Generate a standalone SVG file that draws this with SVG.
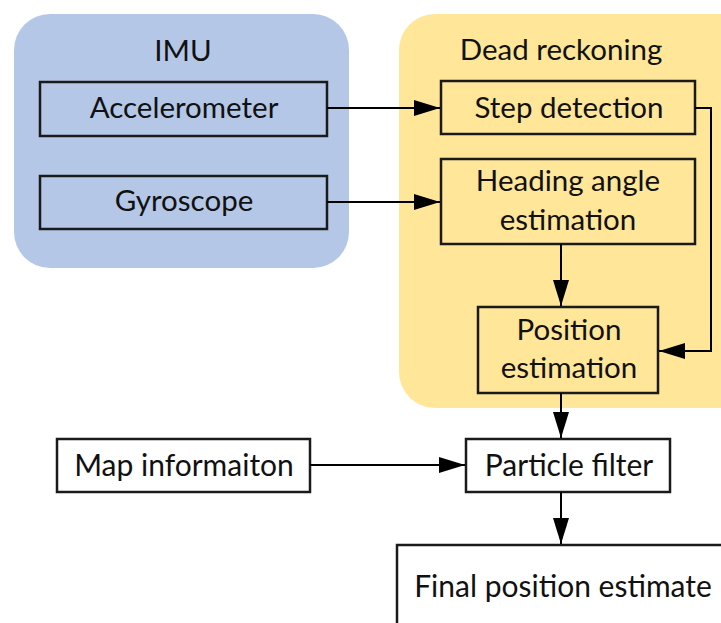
<svg xmlns="http://www.w3.org/2000/svg" width="721" height="623" viewBox="0 0 721 623">
<defs>
<marker id="ah" markerWidth="26" markerHeight="16" refX="26" refY="8" orient="auto" markerUnits="userSpaceOnUse">
<path d="M0,0 L26,8 L0,16 Z" fill="#000"/>
</marker>
</defs>
<style>
.grp{stroke:none}
.box{stroke:#1a1a1a;stroke-width:2.5}
.t{font-family:Lato,"Open Sans",sans-serif;font-size:29.5px;fill:#111;text-anchor:middle}
.c{font-family:Lato,"Liberation Sans",sans-serif;font-size:30px;fill:#111;text-anchor:middle}
.ln{stroke:#000;stroke-width:2;fill:none}
</style>
<rect width="721" height="623" fill="#fff"/>
<g id="imu">
<rect class="grp" x="14" y="14" width="335" height="254" rx="36" fill="#b4c7e7"/>
<text class="t" x="183" y="61">IMU</text>
</g>
<g id="dr">
<rect class="grp" x="399" y="14" width="360" height="394" rx="36" fill="#ffe699"/>
<text class="t" x="561" y="60">Dead reckoning</text>
</g>
<g id="accelerometer">
<rect class="box" x="40" y="82" width="287" height="54" fill="#b4c7e7"/>
<text class="t" x="184" y="118">Accelerometer</text>
</g>
<g id="gyroscope">
<rect class="box" x="40" y="176" width="287" height="53" fill="#b4c7e7"/>
<text class="t" x="184" y="211">Gyroscope</text>
</g>
<g id="step">
<rect class="box" x="441" y="81" width="254" height="53" fill="#ffe699"/>
<text class="t" x="569" y="118">Step detection</text>
</g>
<g id="heading">
<rect class="box" x="441" y="159" width="254" height="85" fill="#ffe699"/>
<text class="t" x="568" y="191">Heading angle</text>
<text class="t" x="568" y="230">estimation</text>
</g>
<g id="position">
<rect class="box" x="478" y="307" width="180" height="86" fill="#ffe699"/>
<text class="t" x="569" y="340">Position</text>
<text class="t" x="569" y="378">estimation</text>
</g>
<g id="map">
<rect class="box" x="57" y="439" width="253" height="53" fill="#fff"/>
<text class="c" x="184" y="476">Map informaiton</text>
</g>
<g id="pf">
<rect class="box" x="466" y="439" width="204" height="53" fill="#fff"/>
<text class="c" x="569" y="476">Particle filter</text>
</g>
<g id="final">
<rect class="box" x="397" y="545" width="340" height="90" fill="#fff"/>
<text class="c" x="563" y="597">Final position estimate</text>
</g>
<g id="connectors">
<line class="ln" x1="327" y1="108" x2="440" y2="108" marker-end="url(#ah)"/>
<line class="ln" x1="327" y1="202" x2="440" y2="202" marker-end="url(#ah)"/>
<polyline class="ln" points="695,108 711,108 711,351 659,351" marker-end="url(#ah)"/>
<line class="ln" x1="561" y1="244" x2="561" y2="306" marker-end="url(#ah)"/>
<line class="ln" x1="561" y1="393" x2="561" y2="438" marker-end="url(#ah)"/>
<line class="ln" x1="310" y1="465" x2="465" y2="465" marker-end="url(#ah)"/>
<line class="ln" x1="561" y1="492" x2="561" y2="544" marker-end="url(#ah)"/>
</g>
</svg>
